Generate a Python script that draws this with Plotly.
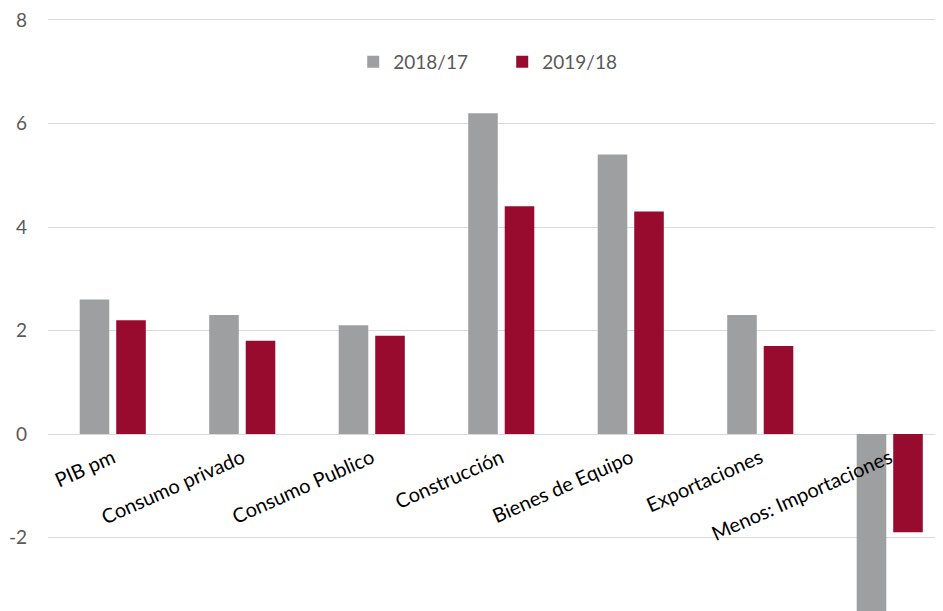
import plotly.graph_objects as go

categories = ["PIB pm", "Consumo privado", "Consumo Publico", "Construcción",
              "Bienes de Equipo", "Exportaciones", "Menos: Importaciones"]
series_names = ["2018/17", "2019/18"]
values_2018_17 = [2.6, 2.3, 2.1, 6.2, 5.4, 2.3, -3.6]
values_2019_18 = [2.2, 1.8, 1.9, 4.4, 4.3, 1.7, -1.9]
y_ticks = [-2, 0, 2, 4, 6, 8]

GRAY = "#9E9FA1"
RED = "#990B2E"
W, H = 943, 611
# the page body has an 8px margin, compensate here
ML, MR, MT, MB = 40, 0, 8, 8
YMIN, YMAX = -3.42, 8.077

fig = go.Figure()
fig.add_trace(go.Bar(x=categories, y=values_2018_17, name=series_names[0],
                     marker=dict(color=GRAY, line=dict(width=0))))
fig.add_trace(go.Bar(x=categories, y=values_2019_18, name=series_names[1],
                     marker=dict(color=RED, line=dict(width=0))))

plot_h = H - MT - MB
zero_pos = (MB + (0 - YMIN) / (YMAX - YMIN) * plot_h) / H

fig.update_layout(
    width=W, height=H,
    margin=dict(l=ML, r=MR, t=MT, b=MB, pad=0, autoexpand=False),
    paper_bgcolor="white", plot_bgcolor="white",
    font=dict(family="Lato, Carlito, Liberation Sans, sans-serif", color="#595959"),
    barmode="group", bargap=0.436, bargroupgap=0.19,
    showlegend=True,
    legend=dict(orientation="h", x=0.503, xanchor="center", y=0.923, yanchor="middle",
                font=dict(size=19, color="#595959"), entrywidth=104, entrywidthmode="pixels",
                itemwidth=30, bgcolor="rgba(0,0,0,0)"),
    xaxis=dict(type="category", range=[-0.5, 6.473], anchor="free", position=zero_pos,
               tickangle=-24, tickfont=dict(size=20, color="#000000"),
               showgrid=False, showline=False, ticks="", zeroline=False,
               ticklabelstandoff=11, automargin=False, ticklabeloverflow="allow"),
    yaxis=dict(range=[YMIN, YMAX], tickvals=y_ticks, ticktext=[str(v) for v in y_ticks],
               showgrid=True, gridcolor="#D9D9D9", gridwidth=1.3,
               zeroline=True, zerolinecolor="#D9D9D9", zerolinewidth=1.3,
               showline=False, ticks="", tickfont=dict(size=19, color="#595959"),
               ticklabelstandoff=20, automargin=False, ticklabeloverflow="allow"),
)

fig.write_html("out.html")
